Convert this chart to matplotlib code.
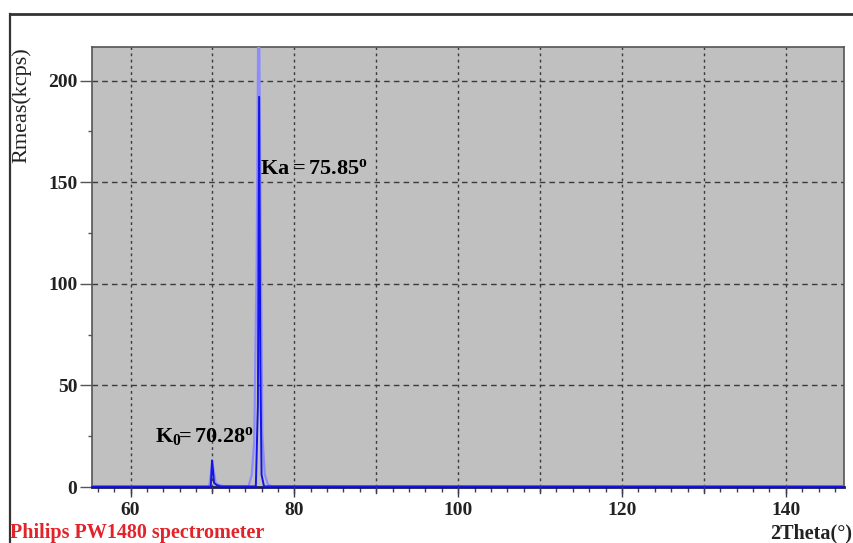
import numpy as np
import matplotlib.pyplot as plt
from matplotlib.lines import Line2D
from matplotlib.ticker import MultipleLocator

plt.rcParams['font.family'] = ['Liberation Serif', 'DejaVu Serif']
plt.rcParams['mathtext.fontset'] = 'custom'
plt.rcParams['mathtext.rm'] = 'Liberation Serif:bold'
plt.rcParams['mathtext.it'] = 'Liberation Serif:bold'
plt.rcParams['mathtext.bf'] = 'Liberation Serif:bold'

# scan data (2Theta in degrees, Rmeas in kcps)
theta_a = [55.3, 69.6, 69.8, 70.0, 70.2, 70.4, 70.8, 71.4, 74.4, 74.8, 75.1,
           75.4, 75.65, 75.9, 76.1, 76.4, 76.8, 77.4, 147.1]
rate_a = [0.3, 0.3, 6, 12, 7, 2, 1, 0.4, 0.3, 6, 22,
          110, 260, 120, 25, 6, 1.0, 0.3, 0.3]

theta_b = [55.3, 69.8, 69.95, 70.05, 70.2, 70.5, 71.0, 75.3, 75.55, 75.7, 75.85,
           76.0, 76.3, 147.1]
rate_b = [0.2, 0.2, 13, 9, 2, 1.0, 0.3, 0.3, 40, 192, 60, 6, 0.3, 0.2]

peak_labels = ['Ka = 75.85', 'K_0\\!\\!=70.28']

fig = plt.figure(figsize=(8.54, 5.43), dpi=100)
ax = fig.add_axes([92 / 854, 1 - 487 / 543, 752 / 854, 440 / 543])
ax.set_facecolor('#c0c0c0')

ax.plot(theta_a, rate_a, color='#8c8cff', lw=1.6, zorder=3)
ax.plot(theta_b, rate_b, color='#1414e6', lw=1.4, zorder=4)

ax.set_xlim(55.3, 147.1)
ax.set_ylim(0, 216.5)

ax.xaxis.set_major_locator(MultipleLocator(20))
ax.xaxis.set_minor_locator(MultipleLocator(2))
ax.yaxis.set_major_locator(MultipleLocator(50))
ax.yaxis.set_minor_locator(MultipleLocator(25))

# grid lines every 10 deg on x, every 50 on y
for gx in range(60, 147, 10):
    ax.axvline(gx, color='#3a3a3a', lw=1.0, ls=(0, (2, 2.5)), zorder=2)
for gy in range(50, 216, 50):
    ax.axhline(gy, color='#3a3a3a', lw=1.0, ls=(0, (4, 3)), zorder=2)
# longer ticks at every 10 deg
for gx in range(60, 147, 10):
    ax.plot([gx, gx], [0, -3.0], color='#3a3a5a', lw=1.0, clip_on=False, zorder=5)

ax.tick_params(axis='x', which='major', length=7, width=1.0, color='#3a3a5a',
               labelsize=14, pad=4)
ax.tick_params(axis='x', which='minor', length=3.5, width=1.0, color='#3a3a5a')
ax.tick_params(axis='y', which='major', length=8.6, width=1.0, color='#555555',
               labelsize=14, pad=2)
ax.tick_params(axis='y', which='minor', length=3, width=1.0, color='#555555')
for lab in ax.get_xticklabels() + ax.get_yticklabels():
    lab.set_fontweight('bold')
    lab.set_color('#222222')

for side in ['left', 'top', 'right']:
    ax.spines[side].set_color('#555555')
    ax.spines[side].set_linewidth(1.2)
ax.spines['bottom'].set_color('#1a1a60')
ax.spines['bottom'].set_linewidth(2.0)

ax.set_ylabel('Rmeas(kcps)', fontsize=16, color='#222222')
ax.yaxis.set_label_coords(-0.080, 0.868)

ax.text(75.8, 154, r'$\mathrm{%s^{o}}$' % peak_labels[0], fontsize=16,
        color='black', ha='left', va='baseline', zorder=6)
ax.text(63.0, 22, r'$\mathrm{%s^{o}}$' % peak_labels[1], fontsize=16,
        color='black', ha='left', va='baseline', zorder=6)

fig.text(10 / 854, 1 - 538 / 543, 'Philips PW1480 spectrometer', color='#e2232a',
         fontsize=14.5, fontweight='bold', ha='left', va='baseline')
fig.text(852 / 854, 1 - 538 / 543, '2Theta(°)', color='#222222',
         fontsize=14.5, fontweight='bold', ha='right', va='baseline')

# outer frame
fig.add_artist(Line2D([10 / 854, 1], [1 - 14 / 543, 1 - 14 / 543],
                      color='#333333', lw=2.0, transform=fig.transFigure))
fig.add_artist(Line2D([10 / 854, 10 / 854], [0, 1 - 14 / 543],
                      color='#333333', lw=1.6, transform=fig.transFigure))

fig.savefig('out.png', dpi=100)
